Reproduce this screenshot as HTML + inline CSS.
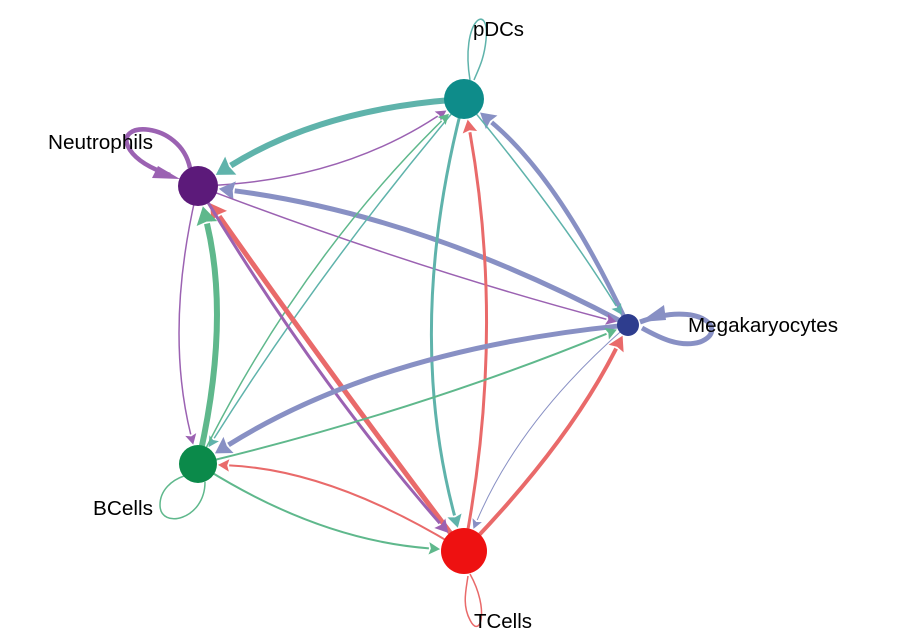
<!DOCTYPE html>
<html><head><meta charset="utf-8"><style>
html,body{margin:0;padding:0;background:#fff;width:905px;height:636px;overflow:hidden}
text{font-family:"Liberation Sans",Arial,sans-serif;font-size:20px;fill:#000}
</style></head><body>
<svg id="s" width="905" height="636" viewBox="0 0 905 636" xmlns="http://www.w3.org/2000/svg">
<g id="edges" fill="none"></g>
<g id="nodes"></g>
<text x="473" y="36" textLength="51" lengthAdjust="spacingAndGlyphs">pDCs</text>
<text x="48" y="149" textLength="105" lengthAdjust="spacingAndGlyphs">Neutrophils</text>
<text x="688" y="332" textLength="150" lengthAdjust="spacingAndGlyphs">Megakaryocytes</text>
<text x="93" y="515" textLength="60" lengthAdjust="spacingAndGlyphs">BCells</text>
<text x="474" y="628" textLength="58" lengthAdjust="spacingAndGlyphs">TCells</text>
</svg>
<script>
var N={P:[464,99,20,'#0e8c8a','#5fb3ab'],N:[198,186,20,'#5c1a7a','#9b62b2'],M:[628,325,11,'#2e3d8e','#8890c4'],B:[198,464,19,'#0b8a4a','#5fb88c'],T:[464,551,23,'#ee1111','#e96a6a']};
var E=[
['P','N',6,320,110],['N','P',1.5,340,180],['M','P',4.5,560,180],['M','N',5,420,215],['N','M',1.5,420,270],
['P','M',1.5,560,215],['P','B',1.5,320,270],['B','P',1.5,300,260],['P','T',3,405,330],['T','P',3,505,330],
['T','N',5,320,360],['N','T',3,315,380],['B','N',6,230,320],['N','B',1.5,165,330],['M','B',5,380,350],
['B','M',2,420,410],['T','M',4,570,440],['M','T',1,520,420],['T','B',2,330,470],['B','T',2,320,540]];
var ns='http://www.w3.org/2000/svg',g=document.getElementById('edges');
function el(t,a){var e=document.createElementNS(ns,t);for(var k in a)e.setAttribute(k,a[k]);return e;}
E.forEach(function(e){var s=N[e[0]],t=N[e[1]],cx=e[3],cy=e[4],w=e[2],c=s[4];
 var dx=t[0]-cx,dy=t[1]-cy,d=Math.hypot(dx,dy),ux=dx/d,uy=dy/d;
 var ex=t[0]-ux*(t[2]+1),ey=t[1]-uy*(t[2]+1);
 var L=8+w*1.6,W=4+w*1.1;
 var bx=ex-ux*L,by=ey-uy*L;
 var sx=s[0]+(cx-s[0])/Math.hypot(cx-s[0],cy-s[1])*s[2]*0.5, sy=s[1]+(cy-s[1])/Math.hypot(cx-s[0],cy-s[1])*s[2]*0.5;
 g.appendChild(el('path',{d:'M'+sx+' '+sy+' Q'+cx+' '+cy+' '+bx+' '+by,stroke:c,'stroke-width':w,'stroke-linecap':'butt'}));
 g.appendChild(el('polygon',{points:ex+','+ey+' '+(bx-uy*W)+','+(by+ux*W)+' '+(bx+ux*2)+','+(by+uy*2)+' '+(bx+uy*W)+','+(by-ux*W),fill:c}));
});
g.appendChild(el('path',{d:'M470 80 C460 20 490 0 486 40 C484 60 478 70 474 80',stroke:'#5fb3ab','stroke-width':1.5}));
g.appendChild(el('path',{d:'M190 168 C180 120 110 120 130 150 C138 162 155 170 170 175',stroke:'#9b62b2','stroke-width':4.5}));
g.appendChild(el('polygon',{points:'180,179 152,178 158,166',fill:'#9b62b2'}));
g.appendChild(el('path',{d:'M640 322 C700 300 730 330 700 342 C680 348 660 338 642 328',stroke:'#8890c4','stroke-width':5}));
g.appendChild(el('polygon',{points:'640,322 664,305 666,320',fill:'#8890c4'}));
g.appendChild(el('path',{d:'M205 482 C205 520 160 530 160 505 C160 490 172 480 184 476',stroke:'#5fb88c','stroke-width':1.5}));
g.appendChild(el('path',{d:'M470 574 C490 610 480 640 470 620 C462 605 466 590 468 576',stroke:'#e96a6a','stroke-width':1.5}));
var nd=document.getElementById('nodes');
for(var k in N){var n=N[k];nd.appendChild(el('circle',{cx:n[0],cy:n[1],r:n[2],fill:n[3]}));}
</script>
</body></html>
